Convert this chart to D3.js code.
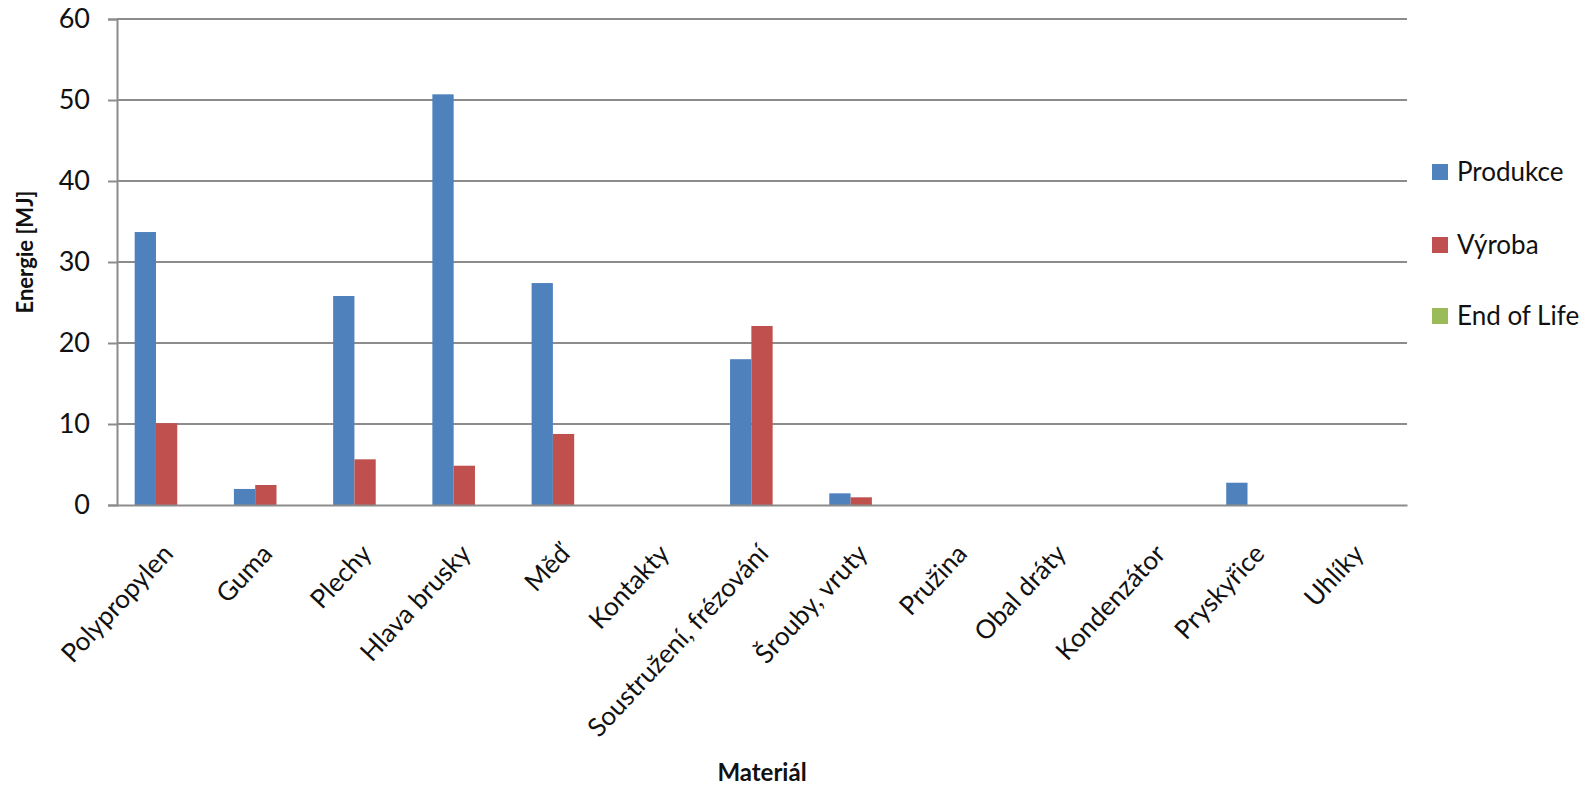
<!DOCTYPE html>
<html>
<head>
<meta charset="utf-8">
<script src="https://cdn.jsdelivr.net/npm/d3@7"></script>
<style>
  body { margin: 0; background: #fff; }
  text { font-family: Lato, "Open Sans", sans-serif; fill: #111; }
</style>
</head>
<body>
<svg id="chart" width="1589" height="789"></svg>
<script>
// Energy per material and life-cycle phase [MJ]
const categories = ["Polypropylen", "Guma", "Plechy", "Hlava brusky", "Měď", "Kontakty",
  "Soustružení, frézování", "Šrouby, vruty", "Pružina", "Obal dráty", "Kondenzátor",
  "Pryskyřice", "Uhlíky"];
const produkce  = [33.7, 1.98, 25.8, 50.7, 27.4, 0, 18.0, 1.44, 0, 0, 0, 2.75, 0];
const vyroba    = [10.1, 2.47, 5.64, 4.85, 8.77, 0, 22.1, 0.95, 0, 0, 0, 0, 0];
const endOfLife = [0, 0, 0, 0, 0, 0, 0, 0, 0, 0, 0, 0, 0];
const seriesNames  = ["Produkce", "Výroba", "End of Life"];
const seriesColors = ["#4F81BD", "#C0504D", "#9BBB59"];
const yTicks = [0, 10, 20, 30, 40, 50, 60];

const seriesValues = [produkce, vyroba, endOfLife];
const rows = categories.map((c, i) => ({
  category: c,
  values: seriesNames.map((s, k) => ({ series: s, value: seriesValues[k][i], color: seriesColors[k] }))
}));

const svg = d3.select("#chart");
const plot = { left: 117, right: 1407, top: 19, bottom: 505 };
const gridColor = "#8c8c8c";

const x0 = d3.scaleBand().domain(categories).range([plot.left, plot.right]).padding(0);
const x1 = d3.scaleBand().domain(seriesNames).range([0, x0.bandwidth()])
  .paddingInner(0).paddingOuter(0.83);
const y = d3.scaleLinear().domain([0, 60]).range([plot.bottom, plot.top]);

// horizontal gridlines
svg.append("g").selectAll("line").data(yTicks.filter(t => t > 0)).join("line")
  .attr("x1", plot.left).attr("x2", plot.right)
  .attr("y1", d => y(d)).attr("y2", d => y(d))
  .attr("stroke", gridColor).attr("stroke-width", 2);

// bars
const groups = svg.append("g").selectAll("g").data(rows).join("g")
  .attr("transform", d => `translate(${x0(d.category)},0)`);
groups.selectAll("rect").data(d => d.values.filter(v => v.value > 0)).join("rect")
  .attr("x", d => x1(d.series))
  .attr("width", x1.bandwidth())
  .attr("y", d => y(d.value))
  .attr("height", d => y(0) - y(d.value))
  .attr("fill", d => d.color);

// y axis
const yAxis = d3.axisLeft(y).tickValues(yTicks).tickSize(9).tickPadding(18).tickFormat(d3.format("d"));
const gy = svg.append("g").attr("transform", `translate(${plot.left},0)`).call(yAxis);
gy.select(".domain").attr("stroke", gridColor).attr("stroke-width", 2);
gy.selectAll(".tick line").attr("stroke", gridColor).attr("stroke-width", 2);
gy.selectAll(".tick text").style("font-size", "27px").attr("fill", "#111");

// x axis baseline with rotated category labels
const xAxis = d3.axisBottom(x0).tickSize(0).tickPadding(0);
const gx = svg.append("g").attr("transform", `translate(0,${plot.bottom})`).call(xAxis);
gx.select(".domain").attr("stroke", gridColor).attr("stroke-width", 2);
gx.selectAll(".tick text")
  .style("font-size", "26px").attr("fill", "#111")
  .attr("text-anchor", "end").attr("dy", 0).attr("y", 0)
  .attr("transform", "translate(8,50) rotate(-47)");

// axis titles
svg.append("text")
  .attr("transform", "translate(33,252) rotate(-90)")
  .attr("text-anchor", "middle")
  .style("font-size", "22px").style("font-weight", "bold")
  .text("Energie [MJ]");
svg.append("text")
  .attr("x", 762).attr("y", 781)
  .attr("text-anchor", "middle")
  .style("font-size", "24px").style("font-weight", "bold")
  .text("Materiál");

// legend
const legend = svg.append("g").attr("transform", "translate(1432,0)");
const legendY = [172, 245, 316];
const li = legend.selectAll("g").data(seriesNames).join("g")
  .attr("transform", (d, i) => `translate(0,${legendY[i]})`);
li.append("rect").attr("x", 0).attr("y", -8).attr("width", 16).attr("height", 16)
  .attr("fill", (d, i) => seriesColors[i]);
li.append("text").attr("x", 25).attr("dy", "0.35em")
  .style("font-size", "26px").text(d => d);
</script>
</body>
</html>
